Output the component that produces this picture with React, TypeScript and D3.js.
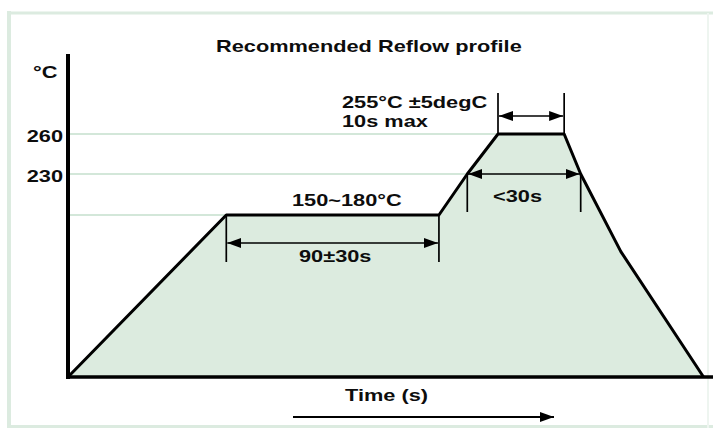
import * as d3 from 'd3';

// reflow profile, schematic (time in s, temperature in °C)
const profileTime = [0, 67, 157, 169, 182, 210, 217, 234, 269];
const profileTemp = [25, 180, 180, 230, 260, 260, 230, 145, 25];

const tempTicks = [260, 230];
const guideTemps = [260, 230, 180];

const soakSpan = [67, 157];
const peakSpan = [182, 210];
const above230Span = [169, 217];

const title = 'Recommended Reflow profile';
const yLabel = '°C';
const xLabel = 'Time (s)';
const soakLabel = '150~180°C';
const soakTimeLabel = '90±30s';
const peakLabel = ['255°C ±5degC', '10s max'];
const above230Label = '<30s';

const W = 713;
const H = 428;
const SX = 1.28; // glyphs in the picture are stretched wide
const FILL = '#dcebdf';
const GUIDE = '#d3e7d9';
const FRAME = '#dcebe0';

const x = d3.scaleLinear().domain([0, 273]).range([68, 713]);
const y = d3.scaleLinear().domain([25, 180, 230, 260]).range([377, 215, 174, 134]);
const yTop = 320;

type Pt = [number, number];
const pts: Pt[] = profileTime.map((t, i) => [t, profileTemp[i]]);

const line = d3
    .line<Pt>()
    .x((d) => x(d[0]))
    .y((d) => y(d[1]));

const area = d3
    .area<Pt>()
    .x((d) => x(d[0]))
    .y0(y(25))
    .y1((d) => y(d[1]));

// first time the profile reaches a level
const reachAt = (level: number) => profileTime[profileTemp.findIndex((v) => v >= level)];

function Label({ px, py, anchor = 'start', text }: { px: number; py: number; anchor?: string; text: string }) {
    return (
        <text transform={`translate(${px},${py}) scale(${SX},1)`} textAnchor={anchor}>
            {text}
        </text>
    );
}

export default function App() {
    const x0 = x(0);
    const base = y(25);

    return (
        <svg width={W} height={H} style={{ position: 'absolute', left: 0, top: 0, background: '#fff' }}>
            <defs>
                <marker
                    id="ah"
                    viewBox="0 0 14 10"
                    refX="14"
                    refY="5"
                    markerWidth="14"
                    markerHeight="10"
                    markerUnits="userSpaceOnUse"
                    orient="auto-start-reverse"
                >
                    <path d="M0,0L14,5L0,10z" fill="#000" />
                </marker>
            </defs>

            {/* frame */}
            <line x1={9} x2={9} y1={11} y2={428} stroke={FRAME} strokeWidth={4} />
            <line x1={7} x2={713} y1={13} y2={13} stroke={FRAME} strokeWidth={3} />
            <line x1={7} x2={713} y1={426.5} y2={426.5} stroke={FRAME} strokeWidth={3} />
            <line x1={708} x2={708} y1={13} y2={428} stroke="#eef5f0" strokeWidth={2} />

            {/* guide lines */}
            {guideTemps.map((t) => (
                <line key={t} x1={x0} x2={x(reachAt(t))} y1={y(t)} y2={y(t)} stroke={GUIDE} strokeWidth={2} />
            ))}

            <path d={area(pts) ?? ''} fill={FILL} />
            <path d={line(pts) ?? ''} fill="none" stroke="#000" strokeWidth={3} strokeLinejoin="round" />

            {/* axes */}
            <line x1={x0} x2={x0} y1={y(yTop)} y2={base + 2} stroke="#000" strokeWidth={4} />
            <line x1={x0 - 2} x2={x.range()[1]} y1={base} y2={base} stroke="#000" strokeWidth={3.5} />

            <g stroke="#000" strokeWidth={1.7} fill="none">
                {/* soak */}
                {soakSpan.map((t) => (
                    <line key={t} x1={x(t)} x2={x(t)} y1={y(180)} y2={y(180) + 47} />
                ))}
                <line
                    x1={x(soakSpan[0]) + 1}
                    x2={x(soakSpan[1]) - 1}
                    y1={y(180) + 28}
                    y2={y(180) + 28}
                    markerStart="url(#ah)"
                    markerEnd="url(#ah)"
                />
                {/* peak */}
                {peakSpan.map((t) => (
                    <line key={t} x1={x(t)} x2={x(t)} y1={y(260)} y2={y(260) - 41} />
                ))}
                <line
                    x1={x(peakSpan[0]) + 1}
                    x2={x(peakSpan[1]) - 1}
                    y1={y(260) - 18}
                    y2={y(260) - 18}
                    markerStart="url(#ah)"
                    markerEnd="url(#ah)"
                />
                {/* above 230 */}
                {above230Span.map((t) => (
                    <line key={t} x1={x(t)} x2={x(t)} y1={y(230)} y2={y(230) + 38} />
                ))}
                <line
                    x1={x(above230Span[0]) + 1}
                    x2={x(above230Span[1]) - 1}
                    y1={y(230)}
                    y2={y(230)}
                    markerStart="url(#ah)"
                    markerEnd="url(#ah)"
                />
                {/* time direction */}
                <line x1={293} x2={554} y1={417} y2={417} strokeWidth={2} markerEnd="url(#ah)" />
            </g>

            <g fontFamily="'Liberation Sans', Arial, sans-serif" fontWeight={700} fontSize={17} fill="#0d0d0d">
                <Label px={216} py={52} text={title} />
                <Label px={33} py={78} text={yLabel} />
                {tempTicks.map((t) => (
                    <Label key={t} px={63} py={y(t) + 8} anchor="end" text={String(t)} />
                ))}
                <Label px={342} py={108} text={peakLabel[0]} />
                <Label px={342} py={127} text={peakLabel[1]} />
                <Label px={292} py={206} text={soakLabel} />
                <Label px={299} py={262} text={soakTimeLabel} />
                <Label px={493} py={202} text={above230Label} />
                <Label px={345} py={401} text={xLabel} />
            </g>
        </svg>
    );
}
